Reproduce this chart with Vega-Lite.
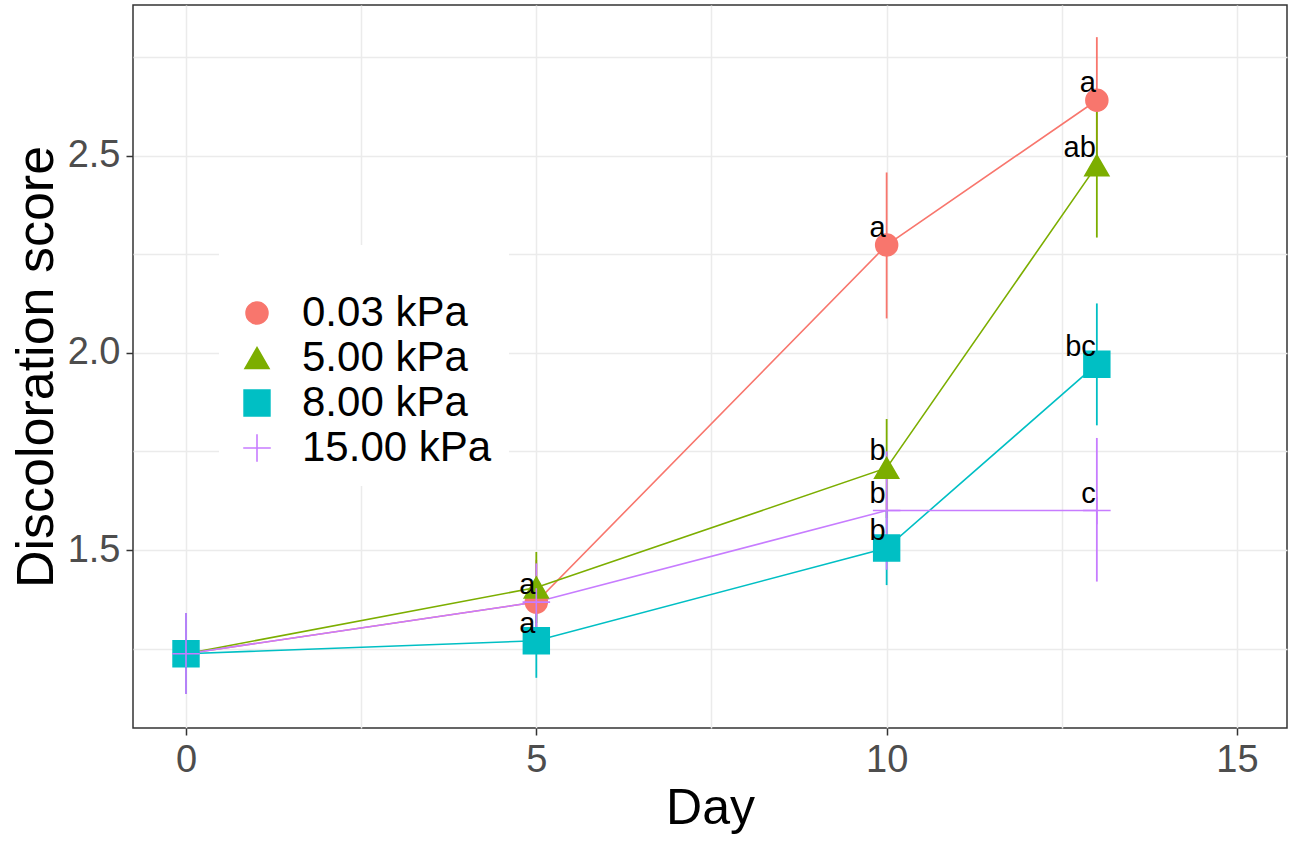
{
  "$schema": "https://vega.github.io/schema/vega-lite/v6.json",
  "width": 1154,
  "height": 723,
  "autosize": "none",
  "padding": {"left": 133, "top": 5, "right": 4, "bottom": 114},
  "background": "white",
  "data": {
    "values": [
      {"group": "0.03 kPa", "day": 0, "mean": 1.237, "lo": 1.135, "hi": 1.34, "letter": ""},
      {"group": "0.03 kPa", "day": 5, "mean": 1.368, "lo": 1.27, "hi": 1.475, "letter": "a"},
      {"group": "0.03 kPa", "day": 10, "mean": 2.273, "lo": 2.087, "hi": 2.457, "letter": "a"},
      {"group": "0.03 kPa", "day": 13, "mean": 2.64, "lo": 2.48, "hi": 2.8, "letter": "a"},
      {"group": "5.00 kPa", "day": 0, "mean": 1.237, "lo": 1.135, "hi": 1.34, "letter": ""},
      {"group": "5.00 kPa", "day": 5, "mean": 1.405, "lo": 1.315, "hi": 1.495, "letter": ""},
      {"group": "5.00 kPa", "day": 10, "mean": 1.708, "lo": 1.581, "hi": 1.832, "letter": "b"},
      {"group": "5.00 kPa", "day": 13, "mean": 2.475, "lo": 2.292, "hi": 2.658, "letter": "ab"},
      {"group": "8.00 kPa", "day": 0, "mean": 1.237, "lo": 1.135, "hi": 1.34, "letter": ""},
      {"group": "8.00 kPa", "day": 5, "mean": 1.27, "lo": 1.176, "hi": 1.364, "letter": "a"},
      {"group": "8.00 kPa", "day": 10, "mean": 1.505, "lo": 1.411, "hi": 1.6, "letter": "b"},
      {"group": "8.00 kPa", "day": 13, "mean": 1.971, "lo": 1.816, "hi": 2.125, "letter": "bc"},
      {"group": "15.00 kPa", "day": 0, "mean": 1.237, "lo": 1.135, "hi": 1.34, "letter": ""},
      {"group": "15.00 kPa", "day": 5, "mean": 1.368, "lo": 1.27, "hi": 1.466, "letter": ""},
      {"group": "15.00 kPa", "day": 10, "mean": 1.6, "lo": 1.45, "hi": 1.75, "letter": "b"},
      {"group": "15.00 kPa", "day": 13, "mean": 1.6, "lo": 1.42, "hi": 1.784, "letter": "c"}
    ]
  },
  "encoding": {
    "x": {
      "field": "day", "type": "quantitative",
      "scale": {"domain": [-0.7564, 15.714], "nice": false, "zero": false},
      "axis": {
        "values": [0, 2.5, 5, 7.5, 10, 12.5, 15],
        "labelExpr": "datum.value % 5 === 0 ? datum.label : ''",
        "tickOpacity": {"condition": {"test": "datum.value % 5 !== 0", "value": 0}, "value": 1},
        "title": "Day",
        "labelFontSize": 38,
        "titleFontSize": 50,
        "tickSize": 7,
        "labelPadding": 6,
        "titlePadding": 4,
        "labelFlush": false,
        "labelOverlap": false
      }
    },
    "y": {
      "field": "mean", "type": "quantitative",
      "scale": {"domain": [1.0488, 2.8815], "nice": false, "zero": false},
      "axis": {
        "values": [1.25, 1.5, 1.75, 2, 2.25, 2.5, 2.75],
        "labelExpr": "(datum.value * 2) % 1 === 0 ? format(datum.value, '.1f') : ''",
        "tickOpacity": {"condition": {"test": "(datum.value * 2) % 1 !== 0", "value": 0}, "value": 1},
        "title": "Discoloration score",
        "labelFontSize": 38,
        "titleFontSize": 52,
        "tickSize": 7,
        "labelPadding": 6,
        "titlePadding": 4,
        "labelFlush": false,
        "labelOverlap": false
      }
    },
    "color": {
      "field": "group", "type": "nominal",
      "scale": {"domain": ["0.03 kPa", "5.00 kPa", "8.00 kPa", "15.00 kPa"], "range": ["#F8766D", "#7CAE00", "#00BFC4", "#C77CFF"]},
      "legend": {
        "title": " ",
        "orient": "none",
        "legendX": 86,
        "legendY": 240,
        "fillColor": "white",
        "padding": 17,
        "labelFontSize": 42,
        "labelFont": "Liberation Sans",
        "labelColor": "black",
        "labelLimit": 500,
        "titleFontSize": 20,
        "titlePadding": 10,
        "rowPadding": 3,
        "labelOffset": 24,
        "symbolOffset": 0,
        "symbolStrokeWidth": 1.6
      }
    }
  },
  "layer": [
    {"mark": {"type": "line", "strokeWidth": 1.6}},
    {"mark": {"type": "rule", "strokeWidth": 1.8}, "encoding": {"y": {"field": "lo", "type": "quantitative"}, "y2": {"field": "hi"}}},
    {
      "mark": {"type": "point", "filled": true, "strokeWidth": 1.6, "opacity": 1},
      "encoding": {
        "stroke": {"field": "group", "type": "nominal", "scale": {"domain": ["0.03 kPa", "5.00 kPa", "8.00 kPa", "15.00 kPa"], "range": ["#F8766D", "#7CAE00", "#00BFC4", "#C77CFF"]}},
        "shape": {"field": "group", "type": "nominal", "scale": {"domain": ["0.03 kPa", "5.00 kPa", "8.00 kPa", "15.00 kPa"], "range": ["circle", "triangle-up", "square", "M-1,0L1,0M0,-1L0,1"]}},
        "size": {"field": "group", "type": "nominal", "scale": {"domain": ["0.03 kPa", "5.00 kPa", "8.00 kPa", "15.00 kPa"], "range": [480, 760, 500, 1024]}}
      }
    },
    {
      "mark": {"type": "text", "align": "right", "baseline": "alphabetic", "dx": -1, "dy": -8, "font": "Liberation Sans", "fontSize": 29, "color": "black"},
      "encoding": {"text": {"field": "letter"}, "color": {"value": "black"}}
    }
  ],
  "config": {
    "view": {"stroke": "#333333", "strokeWidth": 1.5},
    "axis": {
      "domain": false,
      "grid": true,
      "gridColor": "#EBEBEB",
      "gridWidth": 1.5,
      "tickColor": "#333333",
      "tickWidth": 1.5,
      "labelColor": "#4D4D4D",
      "labelFont": "Liberation Sans",
      "titleFont": "Liberation Sans",
      "titleFontWeight": "normal",
      "titleColor": "black"
    }
  }
}
